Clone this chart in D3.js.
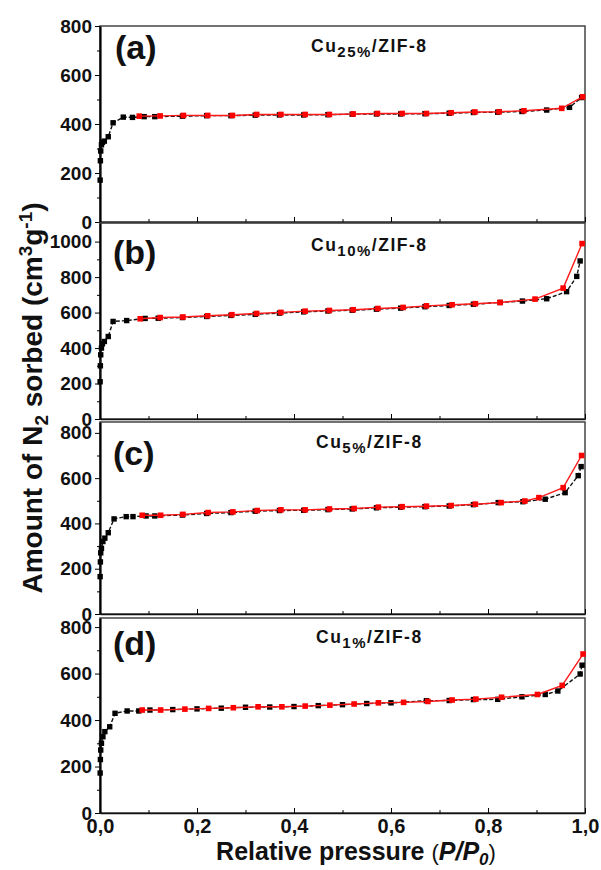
<!DOCTYPE html>
<html>
<head>
<meta charset="UTF-8">
<title>N2 isotherms Cu/ZIF-8</title>
<script src="https://d3js.org/d3.v7.min.js"></script>
<style>
  body { margin: 0; background: #fff; }
  svg text { font-family: "Liberation Sans", Arial, sans-serif; font-weight: bold; }
</style>
</head>
<body>
<div id="chart"></div>
<script>
// panel (a) Cu25%
const aAdsP = [0.0003, 0.0008, 0.0015, 0.003, 0.005, 0.009, 0.017, 0.027, 0.048, 0.067, 0.091, 0.113, 0.17, 0.22, 0.27, 0.32, 0.37, 0.42, 0.47, 0.52, 0.57, 0.62, 0.67, 0.72, 0.77, 0.82, 0.87, 0.921, 0.968, 0.993];
const aAdsV = [171, 250, 290, 315, 325, 330, 348, 405, 428, 427, 430, 430, 432, 434, 434, 436, 437, 437, 438, 440, 441, 441, 442, 444, 447, 448, 451, 457, 468, 508];
const aDesP = [0.081, 0.124, 0.172, 0.222, 0.273, 0.323, 0.373, 0.423, 0.473, 0.522, 0.572, 0.623, 0.673, 0.724, 0.773, 0.823, 0.874, 0.952, 0.995];
const aDesV = [432, 433, 435, 435, 435, 439, 439, 439, 439, 441, 443, 443, 443, 446, 449, 450, 454, 464, 511];
// panel (b) Cu10%
const bAdsP = [0.0003, 0.0008, 0.0015, 0.003, 0.005, 0.009, 0.017, 0.027, 0.055, 0.093, 0.12, 0.17, 0.22, 0.27, 0.32, 0.37, 0.42, 0.47, 0.52, 0.57, 0.62, 0.67, 0.72, 0.77, 0.825, 0.871, 0.921, 0.962, 0.983, 0.99];
const bAdsV = [210, 300, 362, 400, 424, 437, 465, 550, 555, 567, 568, 572, 578, 584, 590, 597, 604, 609, 613, 619, 625, 633, 640, 647, 657, 665, 678, 718, 804, 891];
const bDesP = [0.083, 0.124, 0.171, 0.222, 0.272, 0.323, 0.373, 0.423, 0.473, 0.522, 0.573, 0.625, 0.673, 0.726, 0.774, 0.825, 0.897, 0.955, 0.994];
const bDesV = [565, 572, 575, 582, 588, 595, 601, 608, 612, 616, 623, 629, 638, 644, 650, 657, 676, 738, 989];
// panel (c) Cu5%
const cAdsP = [0.0003, 0.0008, 0.0015, 0.003, 0.006, 0.01, 0.017, 0.029, 0.054, 0.068, 0.095, 0.113, 0.17, 0.22, 0.27, 0.32, 0.37, 0.42, 0.47, 0.52, 0.57, 0.62, 0.67, 0.72, 0.77, 0.821, 0.872, 0.918, 0.959, 0.986, 0.992];
const cAdsV = [165, 230, 270, 290, 320, 335, 359, 420, 430, 430, 433, 433, 437, 444, 448, 454, 457, 458, 461, 464, 469, 472, 474, 477, 483, 492, 496, 507, 536, 611, 651];
const cDesP = [0.087, 0.125, 0.171, 0.223, 0.274, 0.324, 0.373, 0.423, 0.473, 0.524, 0.574, 0.623, 0.673, 0.724, 0.774, 0.827, 0.876, 0.905, 0.955, 0.993];
const cDesV = [436, 436, 440, 448, 451, 457, 460, 460, 464, 466, 472, 474, 476, 479, 485, 492, 499, 514, 558, 700];
// panel (d) Cu1%
const dAdsP = [0.0003, 0.0008, 0.0015, 0.003, 0.006, 0.01, 0.02, 0.031, 0.056, 0.08, 0.103, 0.15, 0.2, 0.25, 0.3, 0.35, 0.4, 0.45, 0.5, 0.55, 0.6, 0.673, 0.72, 0.77, 0.82, 0.87, 0.918, 0.944, 0.99, 0.994];
const dAdsV = [172, 230, 271, 300, 328, 350, 371, 429, 439, 439, 443, 445, 448, 451, 455, 456, 458, 462, 466, 471, 474, 483, 484, 488, 489, 500, 510, 525, 598, 636];
const dDesP = [0.087, 0.125, 0.175, 0.224, 0.275, 0.326, 0.375, 0.423, 0.474, 0.524, 0.574, 0.626, 0.676, 0.726, 0.775, 0.828, 0.902, 0.953, 0.996];
const dDesV = [443, 443, 447, 450, 453, 457, 457, 460, 464, 469, 474, 476, 480, 486, 490, 498, 510, 549, 684];

const panelLabels = ["(a)", "(b)", "(c)", "(d)"];
const sampleSubs = ["25%", "10%", "5%", "1%"];
const yMaxTicks = [800, 1000, 800, 800];
const xTicks = [0, 0.2, 0.4, 0.6, 0.8, 1.0];

// layout per panel (pixel boxes)
const layout = [
  { top: 26,  bottom: 222, ymax: 800,  lab: [115, 59],  sam: [311, 52] },
  { top: 223, bottom: 419, ymax: 1105, lab: [113, 264], sam: [311, 251] },
  { top: 422, bottom: 614, ymax: 848,  lab: [113, 465], sam: [316, 448] },
  { top: 618, bottom: 813, ymax: 839,  lab: [113, 655], sam: [316, 643] }
];
const series = [
  [aAdsP, aAdsV, aDesP, aDesV],
  [bAdsP, bAdsV, bDesP, bDesV],
  [cAdsP, cAdsV, cDesP, cDesV],
  [dAdsP, dAdsV, dDesP, dDesV]
];

const W = 601, H = 870;
const svg = d3.select("#chart").append("svg").attr("width", W).attr("height", H);
const x = d3.scaleLinear().domain([0, 1]).range([100, 585]);
const fmtX = d => d.toFixed(1).replace(".", ",");

layout.forEach((L, i) => {
  const y = d3.scaleLinear().domain([0, L.ymax]).range([L.bottom, L.top]);
  const g = svg.append("g");
  const [ap, av, dp, dv] = series[i];
  const ads = ap.map((p, k) => [p, av[k]]);
  const des = dp.map((p, k) => [p, dv[k]]);

  // frame
  g.append("rect")
    .attr("x", x(0)).attr("y", L.top)
    .attr("width", x(1) - x(0)).attr("height", L.bottom - L.top)
    .attr("fill", "none").attr("stroke", "#444").attr("stroke-width", 1.5);

  // x axis (ticks inward)
  const xMajor = d3.axisBottom(x).tickValues(xTicks).tickSizeInner(-5).tickSizeOuter(0).tickPadding(6)
    .tickFormat(i === 3 ? fmtX : "");
  const xMinor = d3.axisBottom(x).tickValues([0.1, 0.3, 0.5, 0.7, 0.9]).tickSizeInner(-3).tickSizeOuter(0).tickFormat("");
  const gx = g.append("g").attr("transform", `translate(0,${L.bottom})`).call(xMajor);
  g.append("g").attr("transform", `translate(0,${L.bottom})`).call(xMinor).select(".domain").remove();
  gx.select(".domain").attr("stroke", "#111").attr("stroke-width", 1.5);
  gx.selectAll("text").attr("font-size", 20).attr("fill", "#111");

  // y axis (ticks outward)
  const maj = d3.range(0, yMaxTicks[i] + 1, 200);
  const mnr = d3.range(100, yMaxTicks[i], 200);
  const gy = g.append("g").attr("transform", `translate(${x(0)},0)`)
    .call(d3.axisLeft(y).tickValues(maj).tickSizeInner(5).tickSizeOuter(0).tickPadding(3).tickFormat(d3.format("d")));
  g.append("g").attr("transform", `translate(${x(0)},0)`)
    .call(d3.axisLeft(y).tickValues(mnr).tickSizeInner(3).tickSizeOuter(0).tickFormat(""))
    .select(".domain").remove();
  gy.select(".domain").attr("stroke", "#000").attr("stroke-width", 2.2);
  gy.selectAll("text").attr("font-size", 19).attr("fill", "#111");

  const line = d3.line().x(d => x(d[0])).y(d => y(d[1]));

  // adsorption (black, dashed)
  g.append("path").datum(ads).attr("d", line)
    .attr("fill", "none").attr("stroke", "#111").attr("stroke-width", 1.4).attr("stroke-dasharray", "4,2");
  g.selectAll(".ads").data(ads).enter().append("rect")
    .attr("x", d => x(d[0]) - 2.7).attr("y", d => y(d[1]) - 2.7)
    .attr("width", 5.4).attr("height", 5.4).attr("fill", "#000");

  // desorption (red, solid)
  g.append("path").datum(des).attr("d", line)
    .attr("fill", "none").attr("stroke", "#ff1a1a").attr("stroke-width", 1.4);
  g.selectAll(".des").data(des).enter().append("rect")
    .attr("x", d => x(d[0]) - 2.8).attr("y", d => y(d[1]) - 2.8)
    .attr("width", 5.6).attr("height", 5.6).attr("fill", "#ff0000");

  // panel label
  g.append("text").attr("x", L.lab[0]).attr("y", L.lab[1])
    .attr("font-size", 34).attr("fill", "#111").text(panelLabels[i]);

  // sample name
  const t = g.append("text").attr("x", L.sam[0]).attr("y", L.sam[1])
    .attr("font-size", 17.5).attr("fill", "#111").attr("letter-spacing", 1.5);
  t.append("tspan").text("Cu");
  t.append("tspan").attr("font-size", 15).attr("dy", 5).text(sampleSubs[i]);
  t.append("tspan").attr("dy", -5).text("/ZIF-8");
});

// y title
const yt = svg.append("text")
  .attr("transform", "translate(42,398) rotate(-90)")
  .attr("text-anchor", "middle").attr("font-size", 28).attr("fill", "#111");
yt.append("tspan").text("Amount of N");
yt.append("tspan").attr("font-size", 19).attr("dy", 6).text("2");
yt.append("tspan").attr("dy", -6).text(" sorbed (cm");
yt.append("tspan").attr("font-size", 19).attr("dy", -10).text("3");
yt.append("tspan").attr("dy", 10).text("g");
yt.append("tspan").attr("font-size", 19).attr("dy", -10).text("-1");
yt.append("tspan").attr("dy", 10).text(")");

// x title
const xt = svg.append("text")
  .attr("x", 356).attr("y", 860)
  .attr("text-anchor", "middle").attr("font-size", 25).attr("fill", "#111");
xt.append("tspan").text("Relative pressure ");
xt.append("tspan").attr("font-weight", "normal").attr("font-size", 22).text("(");
xt.append("tspan").attr("font-style", "italic").text("P/P");
xt.append("tspan").attr("font-style", "italic").attr("font-size", 17).attr("dy", 5).text("0");
xt.append("tspan").attr("font-weight", "normal").attr("font-size", 22).attr("dy", -5).text(")");
</script>
</body>
</html>
